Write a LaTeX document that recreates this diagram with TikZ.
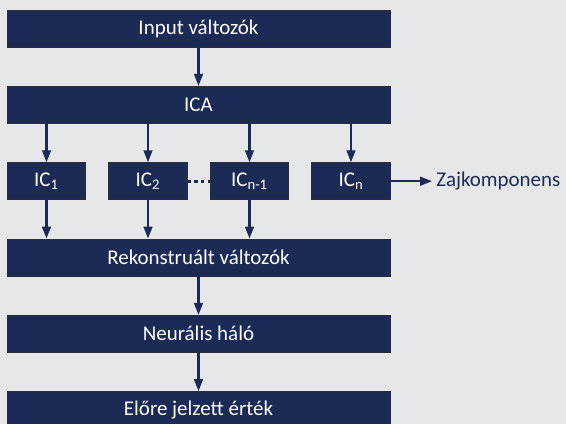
\documentclass[tikz,border=0pt]{standalone}
\usepackage{fontspec}
\setmainfont{Carlito}
\usepackage{tikz}
\usetikzlibrary{arrows.meta, positioning, calc}
\definecolor{mynavy}{RGB}{27,43,86}
\definecolor{mybg}{RGB}{230,231,233}
\definecolor{myedge}{RGB}{45,45,55}
\tikzset{
  block/.style={rectangle, draw=myedge, fill=mynavy, text=white,
    minimum width=9.575cm, minimum height=0.925cm, inner sep=0pt,
    font=\fontsize{14.9}{17}\selectfont, line width=0.6pt},
  icblock/.style={block, minimum width=1.9625cm},
  arrow/.style={-{Triangle[length=0.3cm, width=0.22cm]}, line width=1.5pt, color=mynavy},
  dotline/.style={line width=2.2pt, dash pattern=on 2.2pt off 2.6pt, color=mynavy}
}

\begin{document}
\begin{tikzpicture}
  % Background
  \fill[mybg] (0,0) rectangle (14.15,-10.6);
  \useasboundingbox (0,0) rectangle (14.15,-10.6);

  % Main blocks
  \node[block] (input) at (4.9625,-0.7125) {Input változók};
  \node[block] (ica) at (4.9625,-2.62) {ICA};
  \node[block] (rek) at (4.9625,-6.4375) {Rekonstruált változók};
  \node[block] (neur) at (4.9625,-8.345) {Neurális háló};
  \node[block] (elore) at (4.9625,-10.2525) {Előre jelzett érték};

  % Independent components
  \node[icblock] (ic1) at (1.1625,-4.53) {IC\textsubscript{1}};
  \node[icblock] (ic2) at (3.7,-4.53) {IC\textsubscript{2}};
  \node[icblock] (icm) at (6.2375,-4.53) {IC\textsubscript{n-1}};
  \node[icblock] (icn) at (8.775,-4.53) {IC\textsubscript{n}};
  \node[anchor=west, inner sep=0.1cm, text=mynavy, font=\fontsize{14.9}{17}\selectfont] (zaj) at (10.8,-4.53) {Zajkomponens};

  % Connections
  \draw[arrow] (input) -- (ica);
  \foreach \n in {ic1,ic2,icm,icn}
    \draw[arrow] (ica.south -| \n) -- (\n);
  \foreach \n in {ic1,ic2,icm}
    \draw[arrow] (\n) -- (rek.north -| \n);
  \draw[dotline] (ic2) -- (icm);
  \draw[arrow] (icn) -- (zaj);
  \draw[arrow] (rek) -- (neur);
  \draw[arrow] (neur) -- (elore);
\end{tikzpicture}
\end{document}
